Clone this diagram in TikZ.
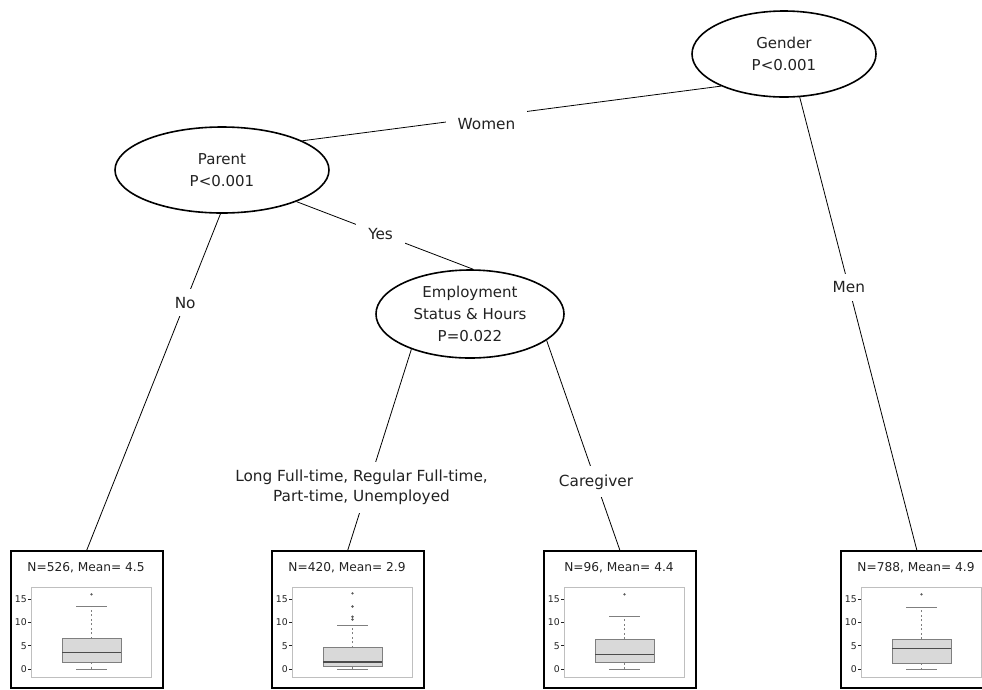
\documentclass[tikz,border=0pt]{standalone}
\usepackage{fontspec}
\setmainfont{DejaVu Sans}
\usetikzlibrary{shapes.geometric}
\definecolor{txt}{HTML}{222222}
\definecolor{bpfill}{HTML}{D9D9D9}
\definecolor{bpedge}{HTML}{7F7F7F}
\definecolor{frm}{HTML}{BFBFBF}
\newcommand{\leafplot}[8]{%
  \node[leafbox, anchor=north west] (#1) at (#2,550) {};
  \node[leaftitle] (#1t) at (#2+76,568) {#3};
  \draw[plotframe] (#2+21,587) rectangle (#2+141,677);
  \foreach \v in {0,5,10,15} {
    \draw[tickline] (#2+21,{669-4.667*\v}) -- ++(-3,0) node[ticklabel] (#1y\v) {\v};
  }
  \draw[bpwhisk] (#2+81.5,{669-4.667*#6}) -- (#2+81.5,{669-4.667*#7});
  \draw[bpwhisk] (#2+81.5,{669-4.667*#4}) -- (#2+81.5,669);
  \draw[bpline] (#2+66,{669-4.667*#7}) -- (#2+97,{669-4.667*#7});
  \draw[bpline] (#2+66,669) -- (#2+97,669);
  \draw[bpbox] (#2+52,{669-4.667*#4}) rectangle (#2+111,{669-4.667*#6});
  \draw[bpmed] (#2+52,{669-4.667*#5}) -- (#2+111,{669-4.667*#5});
  \foreach \o in {#8} { \fill[bpout] (#2+81.5,{669-4.667*\o}) circle (1.3pt); }
}
\begin{document}
\begin{tikzpicture}[x=1pt,y=-1pt,
  split/.style={ellipse, draw, line width=1.6pt, align=center, inner sep=0pt, text=txt,
    font=\fontsize{15}{22}\selectfont},
  edgelab/.style={fill=white, inner xsep=12pt, inner ysep=8pt, text=txt, align=center,
    font=\fontsize{15.3}{20}\selectfont},
  conn/.style={line width=0.8pt},
  leafbox/.style={draw, line width=1.6pt, minimum width=152pt, minimum height=137pt, inner sep=0pt},
  leaftitle/.style={text=txt, inner sep=0pt, font=\fontsize{12.2}{14}\selectfont},
  plotframe/.style={draw=frm, line width=0.7pt},
  tickline/.style={draw=txt, line width=0.5pt},
  ticklabel/.style={anchor=east, inner sep=1pt, text=txt, font=\fontsize{9.3}{10}\selectfont},
  bpwhisk/.style={draw=bpedge, line width=0.8pt, dash pattern=on 2pt off 2.5pt},
  bpline/.style={draw=bpedge, line width=0.9pt},
  bpbox/.style={draw=bpedge, fill=bpfill, line width=0.9pt},
  bpmed/.style={draw=black!70, line width=1.4pt},
  bpout/.style={fill=bpedge!70!black}
]
\useasboundingbox (0,0) rectangle (982,689);
\fill[white] (0,0) rectangle (982,689);

\node[split, minimum width=184pt, minimum height=86pt] (gender) at (784,54) {Gender\\P<0.001};
\node[split, minimum width=214pt, minimum height=86pt] (parent) at (222,170) {Parent\\P<0.001};
\node[split, minimum width=188pt, minimum height=88pt] (emp) at (470,314) {Employment\\Status \& Hours\\P=0.022};

\leafplot{leafA}{10}{N=526, Mean= 4.5}{1.45}{3.5}{6.5}{13.4}{16}
\leafplot{leafB}{271}{N=420, Mean= 2.9}{0.5}{1.5}{4.6}{9.4}{16.2,13.4,11.2,10.6}
\leafplot{leafC}{543}{N=96, Mean= 4.4}{1.3}{3.1}{6.4}{11.2}{16}
\leafplot{leafD}{840}{N=788, Mean= 4.9}{1.2}{4.4}{6.4}{13.1}{16}

\draw[conn] (gender.207) -- node[edgelab, pos=0.56, yshift=-7pt] (women) {Women} (parent.20);
\draw[conn] (gender.290) -- node[edgelab, pos=0.42] (men) {Men} (leafD.north);
\draw[conn] (parent.268) -- node[edgelab, pos=0.264] (no) {No} (leafA.north);
\draw[conn] (parent.337) -- node[edgelab, pos=0.476] (yes) {Yes} (emp.86);
\draw[conn] (emp.211) -- node[edgelab, pos=0.69, xshift=-6pt] (long) {Long Full-time, Regular Full-time,\\Part-time, Unemployed} (leafB.north);
\draw[conn] (emp.341) -- node[edgelab, pos=0.675] (care) {Caregiver} (leafC.north);
\end{tikzpicture}
\end{document}
